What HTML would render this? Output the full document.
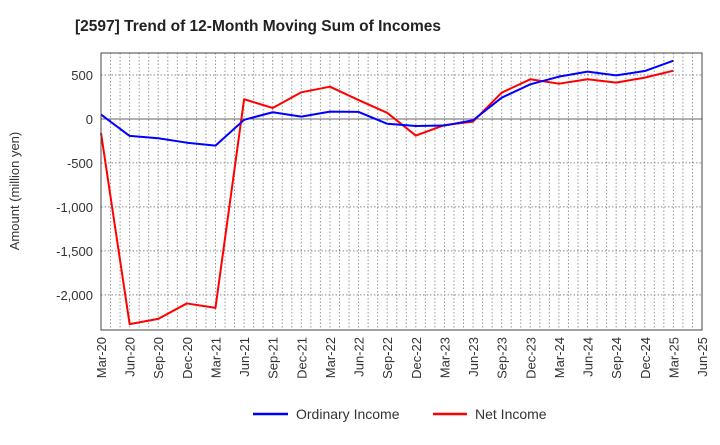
<!DOCTYPE html>
<html><head><meta charset="utf-8"><style>
body{margin:0;background:#fff;font-family:"Liberation Sans",Arial,sans-serif;}
svg text{font-family:"Liberation Sans",Arial,sans-serif;}
</style></head><body>
<svg id="chart" width="720" height="440" xmlns="http://www.w3.org/2000/svg">
<text x="258" y="31" font-size="15.5" font-weight="bold" fill="#222" text-anchor="middle">[2597]  Trend of 12-Month Moving Sum of Incomes</text>
<g id="grid"></g>
<g id="yticks"></g>
<g id="xticks"></g>
<g id="series"></g>
<rect x="101" y="53" width="601" height="277" fill="none" stroke="#444" stroke-width="1"/>
<text transform="translate(19,191) rotate(-90)" font-size="13" fill="#333" text-anchor="middle">Amount (million yen)</text>
<g>
<g>
<line x1="253" y1="414" x2="288" y2="414" stroke="#0000ff" stroke-width="2.5"/>
<text x="296" y="419" font-size="14" fill="#333">Ordinary Income</text></g>
<g>
<line x1="433" y1="414" x2="467" y2="414" stroke="#ff0000" stroke-width="2.5"/>
<text x="475" y="419" font-size="14" fill="#333">Net Income</text></g>
</g>
</svg>
<script>
const categories=["Mar-20","Jun-20","Sep-20","Dec-20","Mar-21","Jun-21","Sep-21","Dec-21","Mar-22","Jun-22","Sep-22","Dec-22","Mar-23","Jun-23","Sep-23","Dec-23","Mar-24","Jun-24","Sep-24","Dec-24","Mar-25","Jun-25"];
const ordinaryIncome=[50,-193,-220,-270,-303,-10,76,26,83,80,-55,-80,-75,-15,242,394,481,538,496,545,663];
const netIncome=[-160,-2333,-2273,-2098,-2148,224,125,303,367,215,70,-189,-70,-30,299,451,401,451,413,470,549];
const yTicks=[500,0,-500,-1000,-1500,-2000];
const yTickLabels=["500","0","-500","-1,000","-1,500","-2,000"];
const X0=101,X1=702,Y0=53,Y1=330,YMAX=750,YMIN=-2400;
const NS="http://www.w3.org/2000/svg";
function xs(i){return X0+(X1-X0)*i/(categories.length-1);}
function ys(v){return Y0+(YMAX-v)/(YMAX-YMIN)*(Y1-Y0);}
function mk(tag,attrs,parent){const e=document.createElementNS(NS,tag);for(const k in attrs)e.setAttribute(k,attrs[k]);parent.appendChild(e);return e;}
const grid=document.getElementById('grid'),yt=document.getElementById('yticks'),xt=document.getElementById('xticks'),sg=document.getElementById('series');
const nm=(categories.length-1)*3;
for(let j=1;j<nm;j++){const x=X0+(X1-X0)*j/nm;
const l=mk('line',{x1:x,x2:x,y1:Y0,y2:Y1,stroke:'#999','stroke-dasharray':'1.5,2','stroke-width':1},grid);

}
yTicks.forEach((v,i)=>{const y=ys(v);
const l=mk('line',{x1:X0,x2:X1,y1:y,y2:y,stroke:v===0?'#666':'#888','stroke-dasharray':v===0?'':'1.5,2','stroke-width':1},grid);


const t=mk('text',{x:93,y:y+5,'font-size':13,fill:'#333','text-anchor':'end'},yt);t.textContent=yTickLabels[i];

});
categories.forEach((c,i)=>{const x=xs(i);
const t=mk('text',{transform:`translate(${x+5},337) rotate(-90)`,'font-size':13,fill:'#333','text-anchor':'end'},xt);t.textContent=c;

});
function line(data,color,name){const p=mk('polyline',{points:data.map((v,i)=>xs(i)+','+ys(v)).join(' '),fill:'none',stroke:color,'stroke-width':2,'stroke-linejoin':'round'},sg);

}
line(netIncome,'#ff0000','net-income-line');
line(ordinaryIncome,'#0000ff','ordinary-income-line');
</script>
</body></html>
